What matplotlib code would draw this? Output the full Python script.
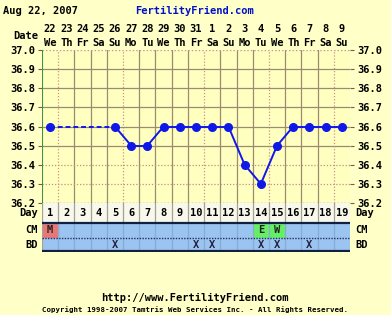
import matplotlib
matplotlib.use("Agg")
import matplotlib.pyplot as plt
import matplotlib.transforms as mtransforms
import numpy as np

# ---- data ----
days = list(range(1, 20))
dates = ["22", "23", "24", "25", "26", "27", "28", "29", "30", "31",
         "1", "2", "3", "4", "5", "6", "7", "8", "9"]
weekdays = ["We", "Th", "Fr", "Sa", "Su", "Mo", "Tu", "We", "Th", "Fr",
            "Sa", "Su", "Mo", "Tu", "We", "Th", "Fr", "Sa", "Su"]
temps = [36.6, None, None, None, 36.6, 36.5, 36.5, 36.6, 36.6, 36.6,
         36.6, 36.6, 36.4, 36.3, 36.5, 36.6, 36.6, 36.6, 36.6]
cm_marks = {1: "M", 14: "E", 15: "W"}
cm_colors = {"M": "#e87878", "E": "#66ee66", "W": "#66ee66"}
bd_days = [5, 10, 11, 14, 15, 17]
yticks = [36.2, 36.3, 36.4, 36.5, 36.6, 36.7, 36.8, 36.9, 37.0]
dotted_vlines = [1, 5, 10, 14, 18]
dotted_hlines = [36.3, 36.4]

W, H = 391, 315
BG = "#ffffc8"
FONT = "DejaVu Sans Mono"
FS = 7.5
fig = plt.figure(figsize=(W / 100, H / 100), dpi=100, facecolor=BG)

L, R = 42, 350
T, B = 50, 203
ax = fig.add_axes([L / W, 1 - B / H, (R - L) / W, (B - T) / H])
ax.set_facecolor("#ffffc0")
ax.set_xlim(0.5, 19.5)
ax.set_ylim(36.2, 37.0)
for s in ax.spines.values():
    s.set_visible(False)
ax.set_xticks([])
ax.set_yticks(yticks)
ax.set_yticklabels([f"{v:.1f}" for v in yticks], family=FONT, weight="bold")
ax.tick_params(axis="y", length=3, width=0.8, color="#706040", labelsize=FS,
               labelright=True, right=True, pad=2)
for t in ax.yaxis.get_major_ticks():
    t.label2.set_fontfamily(FONT)
    t.label2.set_fontweight("bold")
    t.label2.set_fontsize(FS)

# grid
for k in range(1, 19):
    x = k + 0.5
    if k in dotted_vlines:
        ax.axvline(x, color="#d09090", lw=0.9, ls=(0, (1, 1.5)), zorder=1)
    else:
        ax.axvline(x, color="#9a8c70", lw=0.9, zorder=1)
for v in yticks[1:-1]:
    if v in dotted_hlines:
        ax.axhline(v, color="#c09080", lw=0.9, ls=(0, (1, 1.5)), zorder=1)
    else:
        ax.axhline(v, color="#9a8c70", lw=0.9, zorder=1)
ax.axhline(37.0, color="#d09090", lw=1.0, ls=(0, (1, 1.5)), zorder=1)
ax.axhline(36.2, color="#807060", lw=1.0, ls=(0, (1, 1.5)), zorder=1)
ax.axvline(0.5, color="#409040", lw=1.5, zorder=2)

# temperature line
xs = np.array(days, dtype=float)
ys = np.array([np.nan if t is None else t for t in temps])
valid = ~np.isnan(ys)
vx, vy = xs[valid], ys[valid]
LC = "#1018e8"
for i in range(len(vx) - 1):
    gap = vx[i + 1] - vx[i] > 1
    ax.plot(vx[i:i + 2], vy[i:i + 2], color=LC, lw=1.4,
            ls=(0, (2.5, 1.5)) if gap else "-", zorder=3)
ax.plot(vx, vy, "o", color=LC, ms=5.5, zorder=4)

# header
bt = mtransforms.blended_transform_factory(ax.transData, fig.transFigure)
for d, dt, wd in zip(days, dates, weekdays):
    fig.text(d, 1 - 29 / H, dt, transform=bt, ha="center", va="center",
             family=FONT, weight="bold", fontsize=FS)
    fig.text(d, 1 - 43 / H, wd, transform=bt, ha="center", va="center",
             family=FONT, weight="bold", fontsize=FS)
fig.text(38 / W, 1 - 36 / H, "Date", ha="right", va="center",
         family=FONT, weight="bold", fontsize=FS)
fig.text(3 / W, 1 - 11 / H, "Aug 22, 2007", ha="left", va="center",
         family=FONT, weight="bold", fontsize=FS)
fig.text(195 / W, 1 - 11 / H, "FertilityFriend.com", ha="center", va="center",
         family=FONT, weight="bold", fontsize=FS, color="#0010c8")

# lower rows
B2 = 252
ax2 = fig.add_axes([L / W, 1 - B2 / H, (R - L) / W, (B2 - B) / H])
ax2.set_xlim(0.5, 19.5)
ax2.set_ylim(0, B2 - B)
ax2.axis("off")
ax2.axhspan(29, 49, color="#f8f8ec", zorder=0)
ax2.axhspan(0, 29, color="#9cc4f0", zorder=0)
for d, m in cm_marks.items():
    ax2.fill_between([d - 0.5, d + 0.5], 15, 29, color=cm_colors[m], zorder=1)
    ax2.text(d, 22, m, ha="center", va="center", family=FONT, weight="bold",
             fontsize=FS, color="#202020", zorder=3)
for d in bd_days:
    ax2.text(d, 7, "X", ha="center", va="center", family=FONT, weight="bold",
             fontsize=FS, color="#202040", zorder=3)
for k in range(1, 19):
    ax2.axvline(k + 0.5, ymin=29 / 49, ymax=1, color="#a8a090", lw=0.9, zorder=2)
    ax2.axvline(k + 0.5, ymin=0, ymax=29 / 49, color="#88acd8", lw=0.9, zorder=2)
ax2.axvline(0.5, color="#a8a090", lw=0.9, zorder=2)
ax2.axhline(29, color="#102040", lw=1.6, zorder=3)
ax2.axhline(0.8, color="#102040", lw=1.6, zorder=3)
ax2.axhline(14.5, color="#203060", lw=1.0, ls=(0, (1, 1)), zorder=3)
for d in days:
    ax2.text(d, 39, str(d), ha="center", va="center", family=FONT,
             weight="bold", fontsize=FS, zorder=3)
for lbl, yy in [("Day", 39), ("CM", 22), ("BD", 7)]:
    ax2.text(0.5 - 4 / 16.2, yy, lbl, ha="right", va="center", family=FONT,
             weight="bold", fontsize=FS)
    ax2.text(19.5 + 5 / 16.2, yy, lbl, ha="left", va="center", family=FONT,
             weight="bold", fontsize=FS)

# footer
fig.text(195 / W, 1 - 298 / H, "http://www.FertilityFriend.com", ha="center",
         va="center", family=FONT, weight="bold", fontsize=FS)
fig.text(195 / W, 1 - 310 / H,
         "Copyright 1998-2007 Tamtris Web Services Inc. - All Rights Reserved.",
         ha="center", va="center", family=FONT, weight="bold", fontsize=5.3)

fig.savefig("out.png", dpi=100, facecolor=BG)
